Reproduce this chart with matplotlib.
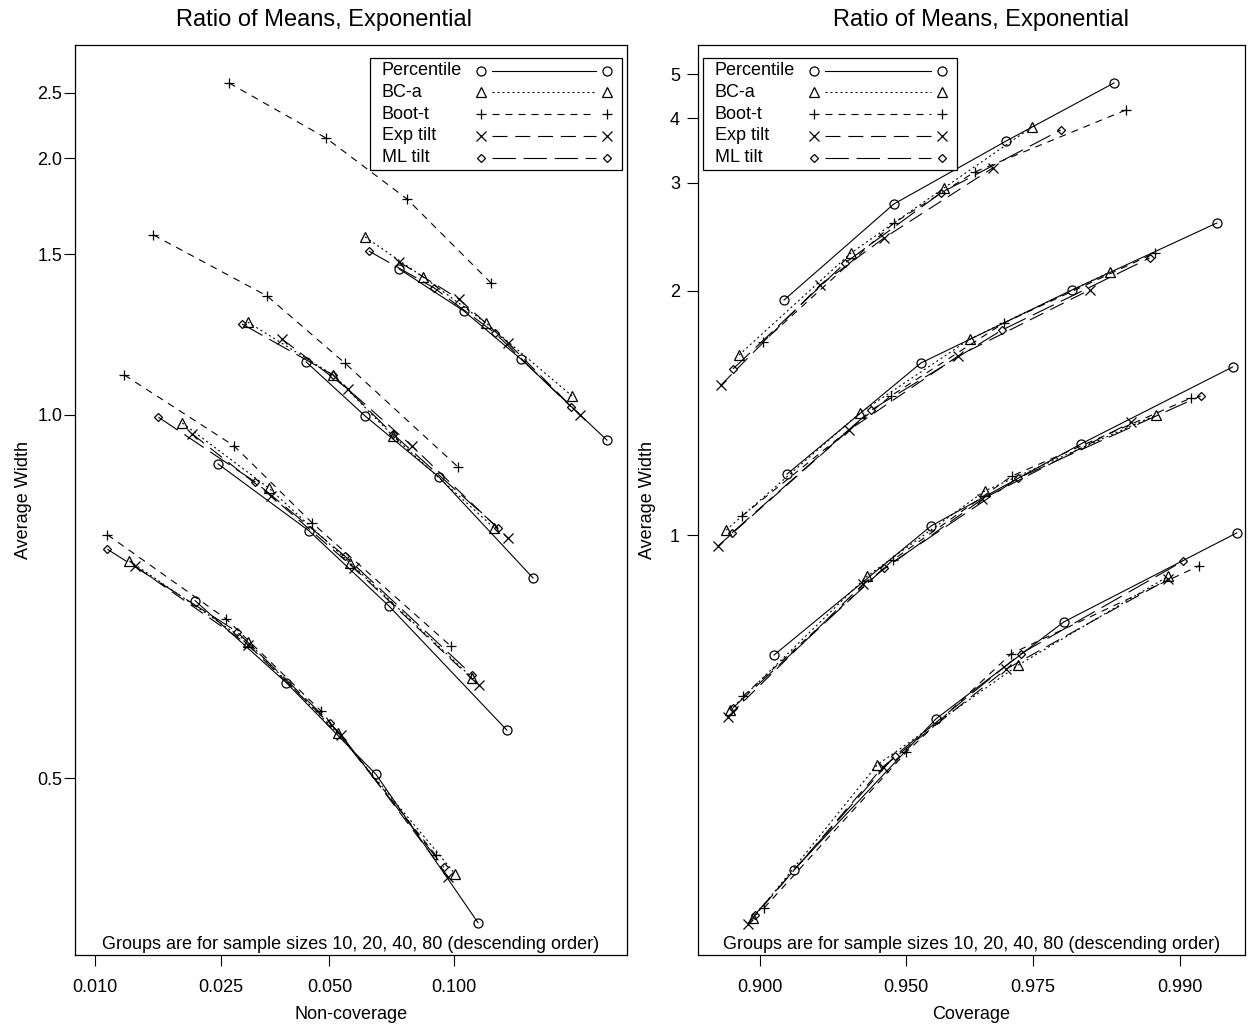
import numpy as np
import matplotlib
matplotlib.use('Agg')
import matplotlib.pyplot as plt
from matplotlib import transforms
from matplotlib.lines import Line2D
from matplotlib.patches import Rectangle
from matplotlib.ticker import NullLocator
from statistics import NormalDist

# groups are n = 10, 20, 40, 80 (top to bottom), 4 nominal levels each
methods = ['Percentile', 'BC-a', 'Boot-t', 'Exp tilt', 'ML tilt']

# left panel: non-coverage vs average width
noncov_pct = [[0.0746, 0.1050, 0.1383, 0.2010], [0.0434, 0.0616, 0.0924, 0.1462],
              [0.0245, 0.0442, 0.0706, 0.1295], [0.0209, 0.0383, 0.0656, 0.1126]]
width_pct_l = [[1.440, 1.287, 1.141, 0.945], [1.133, 0.998, 0.872, 0.711],
               [0.897, 0.780, 0.674, 0.541], [0.681, 0.587, 0.503, 0.401]]
noncov_bca = [[0.0616, 0.0849, 0.1171, 0.1737], [0.0299, 0.0511, 0.0721, 0.1217],
              [0.0191, 0.0343, 0.0565, 0.1093], [0.0130, 0.0299, 0.0526, 0.1003]]
width_bca_l = [[1.575, 1.409, 1.248, 1.045], [1.251, 1.098, 0.954, 0.785],
               [0.982, 0.852, 0.732, 0.592], [0.735, 0.631, 0.538, 0.431]]
noncov_boott = [[0.0264, 0.0490, 0.0779, 0.1200], [0.0155, 0.0339, 0.0548, 0.1019],
                [0.0125, 0.0273, 0.0450, 0.0983], [0.0110, 0.0259, 0.0475, 0.0909]]
width_boott_l = [[2.591, 2.137, 1.761, 1.386], [1.584, 1.339, 1.130, 0.891],
                 [1.098, 0.933, 0.793, 0.626], [0.774, 0.658, 0.559, 0.443]]
noncov_exp = [[0.0746, 0.1024, 0.1301, 0.1797], [0.0373, 0.0558, 0.0800, 0.1301],
              [0.0205, 0.0348, 0.0578, 0.1131], [0.0135, 0.0299, 0.0536, 0.0968]]
width_exp_l = [[1.468, 1.328, 1.187, 1.000], [1.199, 1.062, 0.933, 0.769],
               [0.958, 0.838, 0.725, 0.584], [0.728, 0.628, 0.537, 0.429]]
noncov_ml = [[0.0630, 0.0900, 0.1223, 0.1729], [0.0288, 0.0511, 0.0721, 0.1241],
             [0.0161, 0.0314, 0.0548, 0.1093], [0.0110, 0.0278, 0.0502, 0.0948]]
width_ml_l = [[1.513, 1.368, 1.217, 1.019], [1.245, 1.098, 0.958, 0.785],
              [0.995, 0.863, 0.742, 0.595], [0.752, 0.643, 0.548, 0.435]]

# right panel: coverage vs average width
cov_pct = [[0.9101, 0.9468, 0.9709, 0.9847], [0.9113, 0.9537, 0.9802, 0.9922],
           [0.9060, 0.9561, 0.9812, 0.9930], [0.9141, 0.9572, 0.9792, 0.9932]]
width_pct_r = [[1.940, 2.753, 3.600, 4.779], [1.164, 1.588, 2.007, 2.556],
               [0.764, 1.022, 1.260, 1.569], [0.509, 0.671, 0.820, 1.005]]
cov_bca = [[0.8905, 0.9342, 0.9590, 0.9749], [0.8844, 0.9370, 0.9644, 0.9843],
           [0.8863, 0.9392, 0.9672, 0.9883], [0.8969, 0.9421, 0.9728, 0.9892]]
width_bca_r = [[1.627, 2.285, 2.937, 3.841], [1.012, 1.373, 1.710, 2.135],
               [0.683, 0.908, 1.115, 1.365], [0.469, 0.614, 0.748, 0.908]]
cov_boott = [[0.9013, 0.9468, 0.9653, 0.9858], [0.8919, 0.9460, 0.9705, 0.9882],
             [0.8924, 0.9466, 0.9718, 0.9907], [0.9017, 0.9500, 0.9717, 0.9912]]
width_boott_r = [[1.694, 2.556, 3.141, 4.167], [1.047, 1.441, 1.799, 2.285],
                 [0.702, 0.943, 1.158, 1.432], [0.477, 0.629, 0.766, 0.930]]
cov_exp = [[0.8819, 0.9238, 0.9441, 0.9686], [0.8804, 0.9336, 0.9620, 0.9822],
           [0.8853, 0.9380, 0.9667, 0.9863], [0.8947, 0.9438, 0.9709, 0.9892]]
width_exp_r = [[1.487, 2.041, 2.415, 3.195], [0.974, 1.309, 1.622, 2.007],
               [0.674, 0.892, 1.092, 1.338], [0.465, 0.612, 0.742, 0.902]]
cov_ml = [[0.8877, 0.9323, 0.9583, 0.9788], [0.8872, 0.9404, 0.9702, 0.9878],
          [0.8877, 0.9441, 0.9728, 0.9913], [0.8978, 0.9471, 0.9732, 0.9902]]
width_ml_r = [[1.560, 2.205, 2.878, 3.787], [1.005, 1.384, 1.759, 2.244],
              [0.686, 0.925, 1.152, 1.441], [0.472, 0.625, 0.766, 0.940]]

left_ticks = [0.01, 0.025, 0.05, 0.1]
left_ticklabels = ['0.010', '0.025', '0.050', '0.100']
right_ticks = [0.9, 0.95, 0.975, 0.99]
right_ticklabels = ['0.900', '0.950', '0.975', '0.990']
left_yticks = [0.5, 1.0, 1.5, 2.0, 2.5]
right_yticks = [1, 2, 3, 4, 5]

title = 'Ratio of Means, Exponential'
note = 'Groups are for sample sizes 10, 20, 40, 80 (descending order)'

markers = ['o', '^', '+', 'x', 'D']
msizes = [6.5, 6.5, 7.5, 6.5, 4.2]
dashes = ['-', (0, (1.8, 2.7)), (0, (6.3, 5.4)), (0, (13.5, 7)), (0, (21, 7))]

plt.rcParams['font.family'] = ['Liberation Sans', 'DejaVu Sans']

nd = NormalDist()


def probit(p):
    p = np.clip(np.asarray(p, dtype=float), 1e-12, 1 - 1e-12)
    return np.vectorize(nd.inv_cdf, otypes=[float])(p)


def inv_probit(z):
    return np.vectorize(nd.cdf, otypes=[float])(np.asarray(z, dtype=float))


def rsqrt(w):
    w = np.clip(np.asarray(w, dtype=float), 1e-12, None)
    return -1.0 / np.sqrt(w)


def rsqrt_inv(t):
    t = np.clip(np.asarray(t, dtype=float), None, -1e-12)
    return 1.0 / t ** 2


def draw_key(ax, corner, width):
    # R-style key: label on the left, symbol-line-symbol on the right (sizes in pixels)
    tr = transforms.IdentityTransform() + transforms.ScaledTranslation(corner[0], corner[1], ax.transAxes)
    ax.add_patch(Rectangle((0, -112), width, 112, transform=tr, fill=True, fc='white',
                           ec='black', lw=0.9, zorder=5, clip_on=False))
    for i, name in enumerate(methods):
        y = -(12.7 + 21.75 * i)
        ax.text(12, y, name, transform=tr, ha='left', va='center', fontsize=13, zorder=6)
        ax.add_line(Line2D([122, width - 26], [y, y], transform=tr, color='black', lw=0.8,
                           linestyle=dashes[i], zorder=6))
        ax.add_line(Line2D([111, width - 15], [y, y], transform=tr, linestyle='none', marker=markers[i],
                           ms=msizes[i], mfc='none', mec='black', mew=0.9, zorder=6))


def draw_panel(ax, xs, ys):
    ax.set_xscale('function', functions=(probit, inv_probit))
    ax.set_yscale('function', functions=(rsqrt, rsqrt_inv))
    for m in range(len(methods)):
        for g in range(4):
            ax.plot(xs[m][g], ys[m][g], color='black', lw=0.8, linestyle=dashes[m], marker=markers[m],
                    ms=msizes[m], mfc='none', mec='black', mew=0.9)
    ax.xaxis.set_minor_locator(NullLocator())
    ax.yaxis.set_minor_locator(NullLocator())
    ax.tick_params(axis='both', direction='out', length=8, width=0.8, labelsize=13)
    ax.tick_params(axis='x', pad=9)
    for s in ax.spines.values():
        s.set_linewidth(0.9)
    ax.text(0.5, 0.012, note, transform=ax.transAxes, ha='center', va='center', fontsize=13)


fig = plt.figure(figsize=(12.5, 10.25), dpi=100)
axL = fig.add_axes([75 / 1250, 1 - 955 / 1025, 552 / 1250, 910 / 1025])
axR = fig.add_axes([698 / 1250, 1 - 955 / 1025, 547 / 1250, 910 / 1025])

draw_panel(axL, [noncov_pct, noncov_bca, noncov_boott, noncov_exp, noncov_ml],
           [width_pct_l, width_bca_l, width_boott_l, width_exp_l, width_ml_l])
draw_panel(axR, [cov_pct, cov_bca, cov_boott, cov_exp, cov_ml],
           [width_pct_r, width_bca_r, width_boott_r, width_exp_r, width_ml_r])

axL.set_xlim(0.00855, 0.2178)
axL.set_ylim(0.3829, 2.994)
axL.set_xticks(left_ticks, left_ticklabels)
axL.set_yticks(left_yticks, ['%.1f' % v for v in left_yticks])
axL.tick_params(axis='y', pad=1)
axL.set_xlabel('Non-coverage', fontsize=13, labelpad=7.5)
axL.set_ylabel('Average Width', fontsize=13)
axL.set_title(title, fontsize=17, pad=14, x=0.451)

axR.set_xlim(0.8702, 0.99358)
axR.set_ylim(0.442, 5.896)
axR.set_xticks(right_ticks, right_ticklabels)
axR.set_yticks(right_yticks, [str(v) for v in right_yticks])
axR.tick_params(axis='y', pad=5)
axR.set_xlabel('Coverage', fontsize=13, labelpad=7.5)
axR.set_ylabel('Average Width', fontsize=13, labelpad=10)
axR.set_title(title, fontsize=17, pad=14, x=0.517)

draw_key(axL, (0.5344, 0.9857), 252)
draw_key(axR, (0.0091, 0.9857), 254)

fig.savefig('out.png', dpi=100)
